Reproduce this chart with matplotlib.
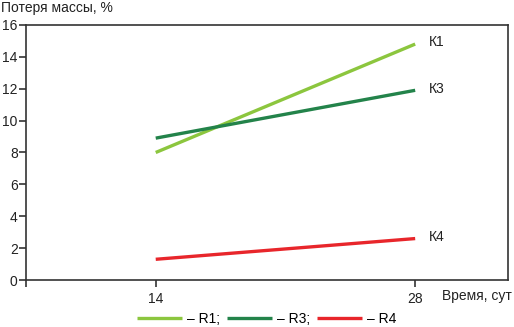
import matplotlib
matplotlib.use('Agg')
import matplotlib.pyplot as plt

# data
days = [14, 28]
r1 = [8.0, 14.8]
r3 = [8.9, 11.9]
r4 = [1.3, 2.6]
curve_labels = ['К1', 'К3', 'К4']
legend_labels = ['– R1;', '– R3;', '– R4']
colors = ['#8cc63e', '#23834a', '#e8262b']

plt.rcParams['font.family'] = ['Liberation Sans', 'DejaVu Sans']
fig = plt.figure(figsize=(5.14, 3.27), dpi=100)
ax = fig.add_axes([0.0506, 0.1437, 0.9374, 0.78])

handles = []
for ys, c, lab, leg in zip([r1, r3, r4], colors, curve_labels, legend_labels):
    h, = ax.plot(days, ys, color=c, lw=2.4, solid_capstyle='butt', label=leg)
    handles.append(h)
    ax.text(days[-1] + 0.75, ys[-1] + 0.1, lab, fontsize=10, color='#222222', va='center')

ax.set_xlim(7, 33)
ax.set_ylim(0, 16)
ax.set_xticks([7, 14, 28])
ax.set_xticklabels(['', '14', '28'])
ax.set_yticks(range(0, 17, 2))
for s in ax.spines.values():
    s.set_color('#333333')
    s.set_linewidth(1.2)
ax.tick_params(colors='#333333', labelcolor='#222222', labelsize=10, width=1.2, length=5, direction='out')
ax.tick_params(axis='y', pad=1)

fig.text(0.002, 0.998, 'Потеря массы, %', fontsize=10, color='#222222', va='top', ha='left')
fig.text(0.996, 0.094, 'Время, сут', fontsize=10, color='#222222', va='center', ha='right')

fig.legend(handles=handles, loc='lower center', bbox_to_anchor=(0.518, -0.035), ncol=3, frameon=False,
           fontsize=10, handlelength=3.3, handletextpad=0.3, columnspacing=0.5)

fig.savefig('out.png', dpi=100)
